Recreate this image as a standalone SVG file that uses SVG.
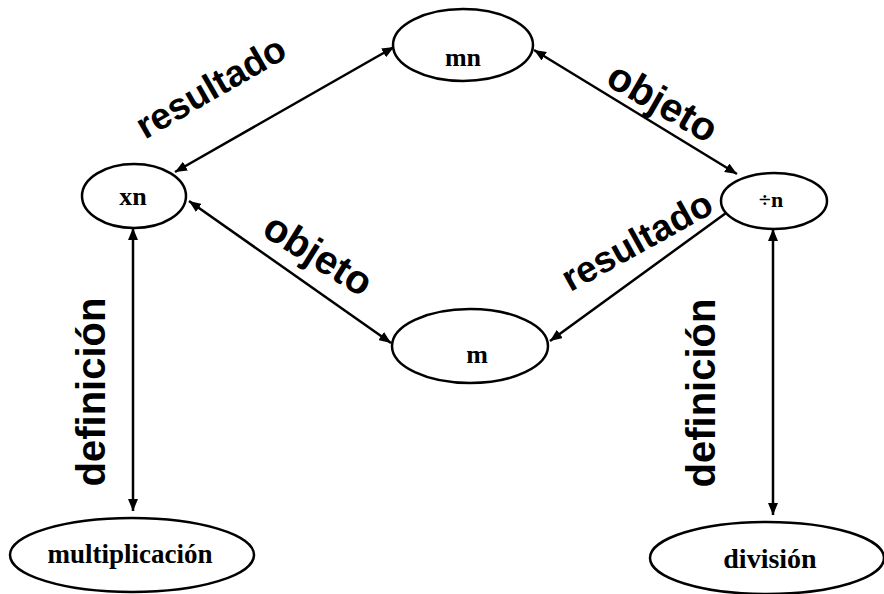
<svg xmlns="http://www.w3.org/2000/svg" width="884" height="594" viewBox="0 0 884 594">
<defs>
<marker id="ah" viewBox="0 0 12 10" refX="12" refY="5" markerWidth="12" markerHeight="10" markerUnits="userSpaceOnUse" orient="auto-start-reverse">
<path d="M0,0 L12,5 L0,10 Z" fill="#000"/>
</marker>
<style>
.node ellipse{fill:#fff;stroke:#000;stroke-width:2.5}
.node text{font-family:"Liberation Serif","Times New Roman",serif;font-weight:bold;text-anchor:middle;fill:#000}
#connectors line{stroke:#000;stroke-width:2.5;marker-start:url(#ah);marker-end:url(#ah)}
.lbl{font-family:"Liberation Sans",Arial,sans-serif;font-weight:bold;text-anchor:middle;fill:#000}
</style>
</defs>
<rect width="884" height="594" fill="#fff"/>
<g id="connectors">
<line x1="175" y1="172" x2="394" y2="47"/>
<line x1="534" y1="50" x2="737" y2="174"/>
<line x1="189" y1="201" x2="391" y2="343"/>
<line x1="737" y1="205" x2="550" y2="341"/>
<line x1="133" y1="228" x2="133" y2="511"/>
<line x1="773" y1="229" x2="773" y2="515"/>
</g>
<g id="labels">
<text class="lbl" font-size="37" transform="translate(217,98) rotate(-30)">resultado</text>
<text class="lbl" font-size="40" transform="translate(656,114) rotate(30)">objeto</text>
<text class="lbl" font-size="40" transform="translate(311,266) rotate(32)">objeto</text>
<text class="lbl" font-size="37" transform="translate(643,252) rotate(-29)">resultado</text>
<text class="lbl" font-size="40" transform="translate(105,392) rotate(-90)">definición</text>
<text class="lbl" font-size="40" transform="translate(715,393) rotate(-90)">definición</text>
</g>
<g id="node-mn" class="node">
<ellipse cx="463" cy="45" rx="70" ry="36"/>
<text x="463" y="66" font-size="26">mn</text>
</g>
<g id="node-xn" class="node">
<ellipse cx="134" cy="196" rx="52" ry="32"/>
<text x="133" y="205" font-size="26">xn</text>
</g>
<g id="node-divn" class="node">
<ellipse cx="774" cy="201" rx="53" ry="28"/>
<text x="771" y="207" font-size="22">÷n</text>
</g>
<g id="node-m" class="node">
<ellipse cx="470" cy="346" rx="78" ry="37"/>
<text x="477" y="363" font-size="26">m</text>
</g>
<g id="node-multiplicacion" class="node">
<ellipse cx="132" cy="555" rx="122" ry="37"/>
<text x="130" y="563" font-size="27">multiplicación</text>
</g>
<g id="node-division" class="node">
<ellipse cx="767" cy="558" rx="117" ry="36"/>
<text x="770" y="568" font-size="28">división</text>
</g>
</svg>
